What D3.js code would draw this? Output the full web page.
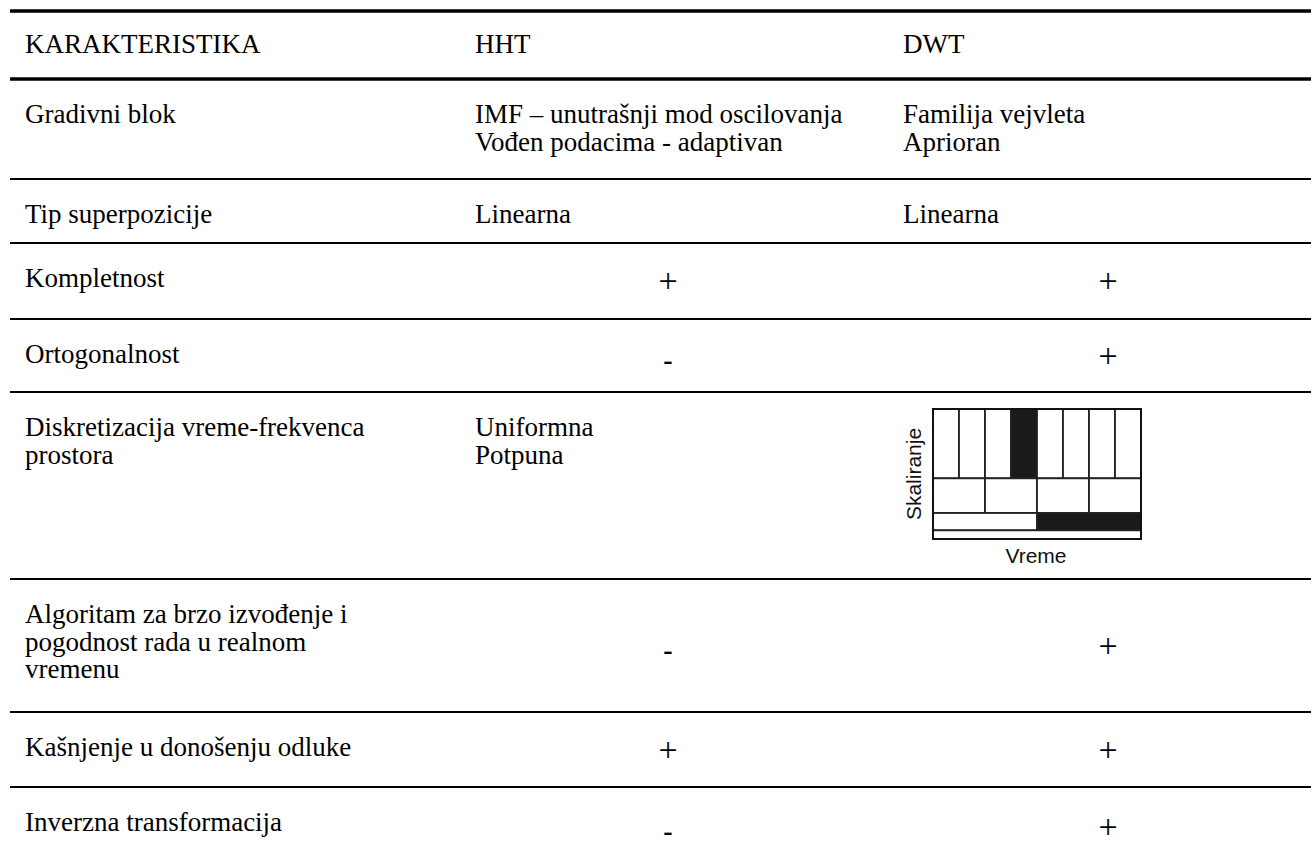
<!DOCTYPE html>
<html>
<head>
<meta charset="utf-8">
<script src="https://cdn.jsdelivr.net/npm/d3@7"></script>
<style>
  html, body { margin: 0; padding: 0; background: #fff; }
  svg { display: block; }
</style>
</head>
<body>
<div id="chart"></div>
<script>
'use strict'

// table content
var headers = ['KARAKTERISTIKA', 'HHT', 'DWT']
var features = [
  ['Gradivni blok'],
  ['Tip superpozicije'],
  ['Kompletnost'],
  ['Ortogonalnost'],
  ['Diskretizacija vreme-frekvenca', 'prostora'],
  ['Algoritam za brzo izvođenje i', 'pogodnost rada u realnom', 'vremenu'],
  ['Kašnjenje u donošenju odluke'],
  ['Inverzna transformacija']
]
var hhtValues = [
  ['IMF – unutrašnji mod oscilovanja', 'Vođen podacima - adaptivan'],
  ['Linearna'],
  '+', '-', ['Uniformna', 'Potpuna'], '-', '+', '-'
]
var dwtValues = [
  ['Familija vejvleta', 'Aprioran'],
  ['Linearna'],
  '+', '+', 'diagram', '+', '+', '+'
]

// time-scale tiling for the DWT cell: cells per level, filled cell index
var tileCounts = [8, 4, 2, 1]
var tileFilled = [3, -1, 1, -1]
var tileWeights = [8, 4, 2, 1]
var diagramLabels = { x: 'Vreme', y: 'Skaliranje' }

var width = 1311
var height = 858
var rowEdges = [79, 179, 243, 319, 392, 579, 712, 787, 866]
var colX = [25, 475, 903]
var signX = [668, 1108]
var lineH = 27.5
var firstLine = 35
var fontSize = '27px'

var svg = d3.select('#chart')
  .append('svg')
  .attr('width', width)
  .attr('height', height)

var font = "'Liberation Serif', 'Times New Roman', serif"
var sans = "'Liberation Sans', Arial, sans-serif"

function drawLines(g, lines, x, yFirst) {
  lines.forEach(function(s, i) {
    g.append('text')
      .attr('x', x)
      .attr('y', yFirst + i * lineH)
      .attr('dy', '0.35em')
      .attr('font-family', font)
      .attr('font-size', fontSize)
      .attr('fill', '#000')
      .text(s)
  })
}

// rules
svg.append('line')
  .attr('x1', 10).attr('x2', width)
  .attr('y1', 11).attr('y2', 11)
  .attr('stroke', '#000').attr('stroke-width', 3.5)
svg.append('line')
  .attr('x1', 10).attr('x2', width)
  .attr('y1', rowEdges[0]).attr('y2', rowEdges[0])
  .attr('stroke', '#000').attr('stroke-width', 3.5)
rowEdges.slice(1, -1).forEach(function(y) {
  svg.append('line')
    .attr('x1', 10).attr('x2', width)
    .attr('y1', y).attr('y2', y)
    .attr('stroke', '#000').attr('stroke-width', 2)
})

// header
headers.forEach(function(h, i) {
  drawLines(svg, [h], colX[i], 44)
})

function rowMid(i) {
  return (rowEdges[i] + rowEdges[i + 1]) / 2
}

features.forEach(function(f, i) {
  var top = rowEdges[i] + firstLine
  drawLines(svg, f, colX[0], top)
  ;[hhtValues[i], dwtValues[i]].forEach(function(v, c) {
    if (v === 'diagram') {
      drawDiagram(svg, rowEdges[i])
    } else if (v === '+') {
      svg.append('text')
        .attr('x', signX[c])
        .attr('y', rowMid(i))
        .attr('dy', '0.33em')
        .attr('text-anchor', 'middle')
        .attr('font-family', font)
        .attr('font-size', '34px')
        .attr('fill', '#000')
        .text('+')
    } else if (v === '-') {
      svg.append('text')
        .attr('x', signX[c])
        .attr('y', rowMid(i) + 4)
        .attr('dy', '0.35em')
        .attr('text-anchor', 'middle')
        .attr('font-family', font)
        .attr('font-weight', 'bold')
        .attr('font-size', '28px')
        .attr('fill', '#000')
        .text('-')
    } else {
      drawLines(svg, v, colX[c + 1], top)
    }
  })
})

function drawDiagram(svg, top) {
  var box = { x: 933, y: top + 17, w: 208, h: 130 }
  var g = svg.append('g')
  var x = d3.scaleLinear().domain([0, 1]).range([box.x, box.x + box.w])
  var total = d3.sum(tileWeights)
  var levelY = d3.scaleLinear().domain([0, total]).range([box.y, box.y + box.h])
  var acc = 0
  tileCounts.forEach(function(n, li) {
    var y0 = levelY(acc)
    acc += tileWeights[li]
    var y1 = levelY(acc)
    d3.range(n).forEach(function(k) {
      g.append('rect')
        .attr('x', x(k / n))
        .attr('y', y0)
        .attr('width', x((k + 1) / n) - x(k / n))
        .attr('height', y1 - y0)
        .attr('fill', k === tileFilled[li] ? '#1a1a1a' : '#fff')
        .attr('stroke', '#222')
        .attr('stroke-width', 1.8)
    })
  })
  g.append('rect')
    .attr('x', box.x).attr('y', box.y)
    .attr('width', box.w).attr('height', box.h)
    .attr('fill', 'none')
    .attr('stroke', '#111')
    .attr('stroke-width', 2)
  g.append('text')
    .attr('x', box.x + box.w / 2 - 1)
    .attr('y', box.y + box.h + 24)
    .attr('text-anchor', 'middle')
    .attr('font-family', sans)
    .attr('font-size', '21px')
    .attr('fill', '#111')
    .text(diagramLabels.x)
  g.append('text')
    .attr('transform', 'translate(' + (box.x - 12) + ',' + (box.y + box.h / 2) + ') rotate(-90)')
    .attr('text-anchor', 'middle')
    .attr('font-family', sans)
    .attr('font-size', '21px')
    .attr('fill', '#111')
    .text(diagramLabels.y)
}
</script>
</body>
</html>
